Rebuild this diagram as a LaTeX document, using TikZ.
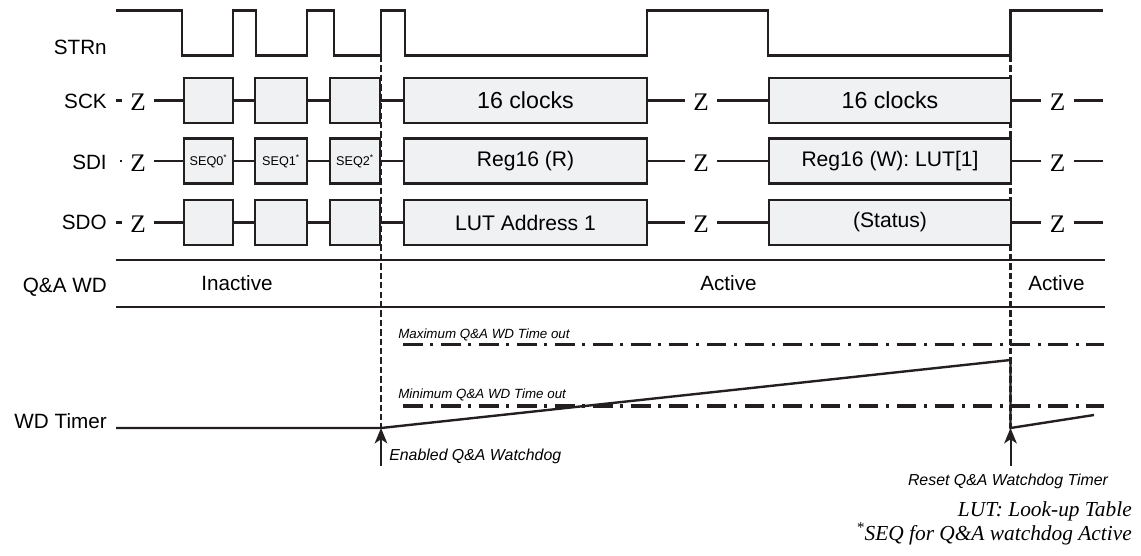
\documentclass[tikz,border=0pt]{standalone}
\usepackage{fontspec}
\setmainfont{Liberation Sans}
\newfontfamily\serfont{Liberation Serif}
\usepackage{tikz}
\usetikzlibrary{arrows.meta}
\definecolor{boxgray}{RGB}{240,241,243}
\definecolor{ink}{RGB}{35,31,32}
\newcommand{\sigfont}{\fontsize{14.7}{17}\selectfont}
\newcommand{\boxfont}{\fontsize{15}{18}\selectfont}
\newcommand{\seqtext}[1]{{\fontsize{9}{10}\selectfont SEQ#1\textsuperscript{*}}}
\tikzset{
box/.style = {rectangle, draw=ink, fill=boxgray, line width=1.7pt, minimum height=31.9pt, inner sep=0pt, minimum width = #1*0.025cm, font=\boxfont},
box/.default = 50, % width in px
zed/.style = {inner sep=0pt, minimum width=22.6pt, text height=14.8pt, text depth=0pt, font=\serfont\fontsize{18}{20}\selectfont},
sig/.style = {draw=ink, line width=1.7pt},
lbl/.style = {anchor=base east, inner sep=0pt, font=\sigfont},
state/.style = {anchor=base, inner sep=0pt, font=\sigfont},
vline/.style = {draw=ink, line width=1.5pt, dash pattern=on 4.5pt off 2.2pt},
limit/.style = {draw=ink, line width=2.2pt, dash pattern=on 14pt off 5.5pt on 2pt off 5.5pt},
tiny/.style = {anchor=base west, inner sep=0pt, font=\fontsize{9.5}{11}\selectfont\itshape},
note/.style = {inner sep=0pt, font=\fontsize{11.3}{13}\selectfont\itshape},
arr/.style = {draw=ink, line width=1.4pt, -{Stealth[length=11pt, width=9pt, inset=3pt]}},
foot/.style = {anchor=base east, inner sep=0pt, font=\serfont\itshape\fontsize{15.2}{18}\selectfont},
}

\begin{document}
\begin{tikzpicture}[x=0.025cm, y=-0.025cm]
    \useasboundingbox (0,0) rectangle (1141,556);

    % labels
    \node[lbl] (strnLabel) at (107,55) {STRn};
    \node[lbl] (sckLabel) at (107,109) {SCK};
    \node[lbl] (sdiLabel) at (107,170) {SDI};
    \node[lbl] (sdoLabel) at (107,230) {SDO};
    \node[lbl] (qaLabel) at (107,292) {Q\&A WD};
    \node[lbl] (wdLabel) at (107,428) {WD Timer};

    % window markers
    \draw[vline] (381,56) -- (381,428);
    \draw[vline] (1010.5,56) -- (1010.5,428);

    % STRn
    \draw[sig] (116,10.5) -| (182,55.5) -| (233,10.5) -| (256,55.5) -| (307,10.5) -| (334,55.5)
        -| (381,10.5) -| (405,55.5) -| (647,10.5) -| (768,55.5) -| (1010.5,10.5) -- (1103,10.5);

    % SCK
    \coordinate (sckStart) at (116,100.5);
    \coordinate (sckEnd) at (1103,100.5);
    \node[zed] (sckZa) at (138,100.5) {Z};
    \node[box=49] (sckA) at (208.5,100.5) {};
    \node[box=52] (sckB) at (281,100.5) {};
    \node[box=50] (sckC) at (355,100.5) {};
    \node[box=243, font=\fontsize{16.5}{19}\selectfont] (sckD) at (525.5,100.5) {16 clocks};
    \node[zed] (sckZb) at (701,100.5) {Z};
    \node[box=242, font=\fontsize{16.5}{19}\selectfont] (sckE) at (890,100.5) {16 clocks};
    \node[zed] (sckZc) at (1057.5,100.5) {Z};
    \draw[sig] (sckStart) -- (sckZa) -- (sckA) -- (sckB) -- (sckC) -- (sckD) -- (sckZb) -- (sckE) -- (sckZc) -- (sckEnd);

    % SDI
    \coordinate (sdiStart) at (119.5,161);
    \coordinate (sdiEnd) at (1103,161);
    \node[zed] (sdiZa) at (138,161) {Z};
    \node[box=49] (sdiA) at (208.5,161) {\seqtext{0}};
    \node[box=52] (sdiB) at (281,161) {\seqtext{1}};
    \node[box=50] (sdiC) at (355,161) {\seqtext{2}};
    \node[box=243] (sdiD) at (525.5,161) {Reg16 (R)};
    \node[zed] (sdiZb) at (701,161) {Z};
    \node[box=242] (sdiE) at (890,161) {Reg16 (W): LUT[1]};
    \node[zed] (sdiZc) at (1057.5,161) {Z};
    \draw[sig] (sdiStart) -- (sdiZa) -- (sdiA) -- (sdiB) -- (sdiC) -- (sdiD) -- (sdiZb) -- (sdiE) -- (sdiZc) -- (sdiEnd);

    % SDO
    \coordinate (sdoStart) at (116,222.5);
    \coordinate (sdoEnd) at (1103,222.5);
    \node[zed] (sdoZa) at (138,222.5) {Z};
    \node[box=49] (sdoA) at (208.5,222.5) {};
    \node[box=52] (sdoB) at (281,222.5) {};
    \node[box=50] (sdoC) at (355,222.5) {};
    \node[box=243] (sdoD) at (525.5,222.5) {LUT Address 1};
    \node[zed] (sdoZb) at (701,222.5) {Z};
    \node[box=242] (sdoE) at (890,222.5) {(Status)};
    \node[zed] (sdoZc) at (1057.5,222.5) {Z};
    \draw[sig] (sdoStart) -- (sdoZa) -- (sdoA) -- (sdoB) -- (sdoC) -- (sdoD) -- (sdoZb) -- (sdoE) -- (sdoZc) -- (sdoEnd);

    % Q&A WD state
    \draw[sig] (116,260) -- (1105,260);
    \draw[sig] (116,307) -- (1105,307);
    \node[state] (qaInactive) at (237,290) {Inactive};
    \node[state] (qaActive) at (728.5,290) {Active};
    \node[state] (qaActiveB) at (1056.5,290) {Active};

    % WD timer
    \draw[limit] (403,344.5) -- (1104,344.5);
    \draw[limit] (403,406) -- (1104,406);
    \node[tiny] (maxText) at (398,338) {Maximum Q\&A WD Time out};
    \node[tiny] (minText) at (398,398) {Minimum Q\&A WD Time out};

    \coordinate (wdStart) at (116,428);
    \coordinate (enableTip) at (381,428);
    \coordinate (rampTop) at (1010.5,360);
    \coordinate (resetTip) at (1010.5,428);
    \coordinate (wdEnd) at (1094,415);
    \draw[sig, line join=miter] (wdStart) -- (enableTip) -- (rampTop) -- (resetTip) -- (wdEnd);

    \coordinate (enableTail) at (381,466);
    \coordinate (resetTail) at (1010.5,466);
    \draw[arr] (enableTail) -- (enableTip);
    \draw[arr] (resetTail) -- (resetTip);
    \node[note, anchor=base west] (enableText) at (389,460) {Enabled Q\&A Watchdog};
    \node[note, anchor=base] (resetText) at (1008,485) {Reset Q\&A Watchdog Timer};

    % footnotes
    \node[foot] (lutNote) at (1132,516) {LUT: Look-up Table};
    \node[foot] (seqNote) at (1132,540) {\textsuperscript{*}SEQ for Q\&A watchdog Active};
\end{tikzpicture}
\end{document}
